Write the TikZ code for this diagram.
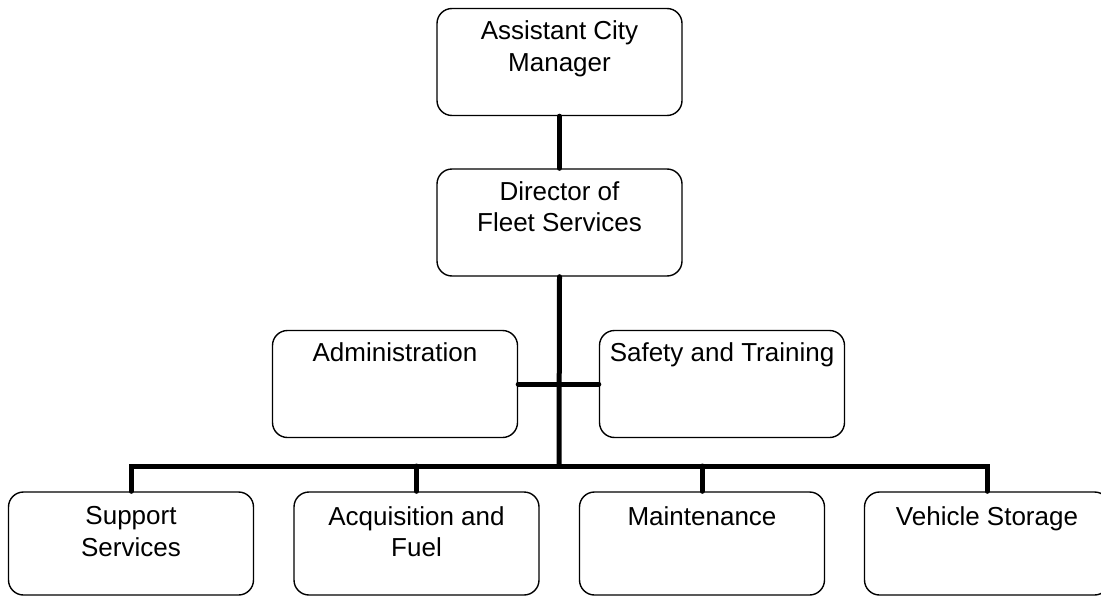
\documentclass[tikz,border=0pt]{standalone}
\usepackage{fontspec}
\setmainfont{Liberation Sans}
\begin{document}
\begin{tikzpicture}[x=1pt,y=-1pt,
  box/.style={draw=black, line width=1.4pt, rounded corners=15pt, minimum width=245pt, minimum height=107pt, inner sep=0pt},
  lbl/.style={font=\fontsize{26}{31.5}\selectfont, align=center, inner sep=0pt, anchor=north},
  conn/.style={line width=5pt, line cap=round, line join=miter}]
\useasboundingbox (0,0) rectangle (1101,597);
% boxes
\node[box] (acm) at (559.5,62) {};
\node[box] (dir) at (559.5,222.5) {};
\node[box] (adm) at (395,384) {};
\node[box] (saf) at (722,384) {};
\node[box, minimum height=103pt] (sup) at (131,543.5) {};
\node[box, minimum height=103pt] (acq) at (416.5,543.5) {};
\node[box, minimum height=103pt] (mai) at (702,543.5) {};
\node[box, minimum height=103pt] (veh) at (987,543.5) {};
% labels
\node[lbl] (tacm) at ([yshift=-13pt]acm.north) {Assistant City\\Manager};
\node[lbl] (tdir) at ([yshift=-13pt]dir.north) {Director of\\Fleet Services};
\node[lbl] (tadm) at ([yshift=-13pt]adm.north) {Administration};
\node[lbl] (tsaf) at ([yshift=-13pt]saf.north) {Safety and Training};
\node[lbl] (tsup) at ([yshift=-15pt]sup.north) {Support\\Services};
\node[lbl] (tacq) at ([yshift=-15pt]acq.north) {Acquisition and\\Fuel};
\node[lbl] (tmai) at ([yshift=-15pt]mai.north) {Maintenance};
\node[lbl] (tveh) at ([yshift=-15pt]veh.north) {Vehicle Storage};
% connectors
\coordinate (busmid) at (559,466);
\draw[conn] (acm.south) -- (dir.south |- acm.south) -- (dir.north);
\draw[conn] (dir.south) -- (busmid);
\draw[conn] (adm.east) -- (saf.west);
\draw[conn] (sup.north) -- (sup.north |- busmid) -- (veh.north |- busmid) -- (veh.north);
\draw[conn] (acq.north) -- (acq.north |- busmid);
\draw[conn] (mai.north) -- (mai.north |- busmid);
\end{tikzpicture}
\end{document}
